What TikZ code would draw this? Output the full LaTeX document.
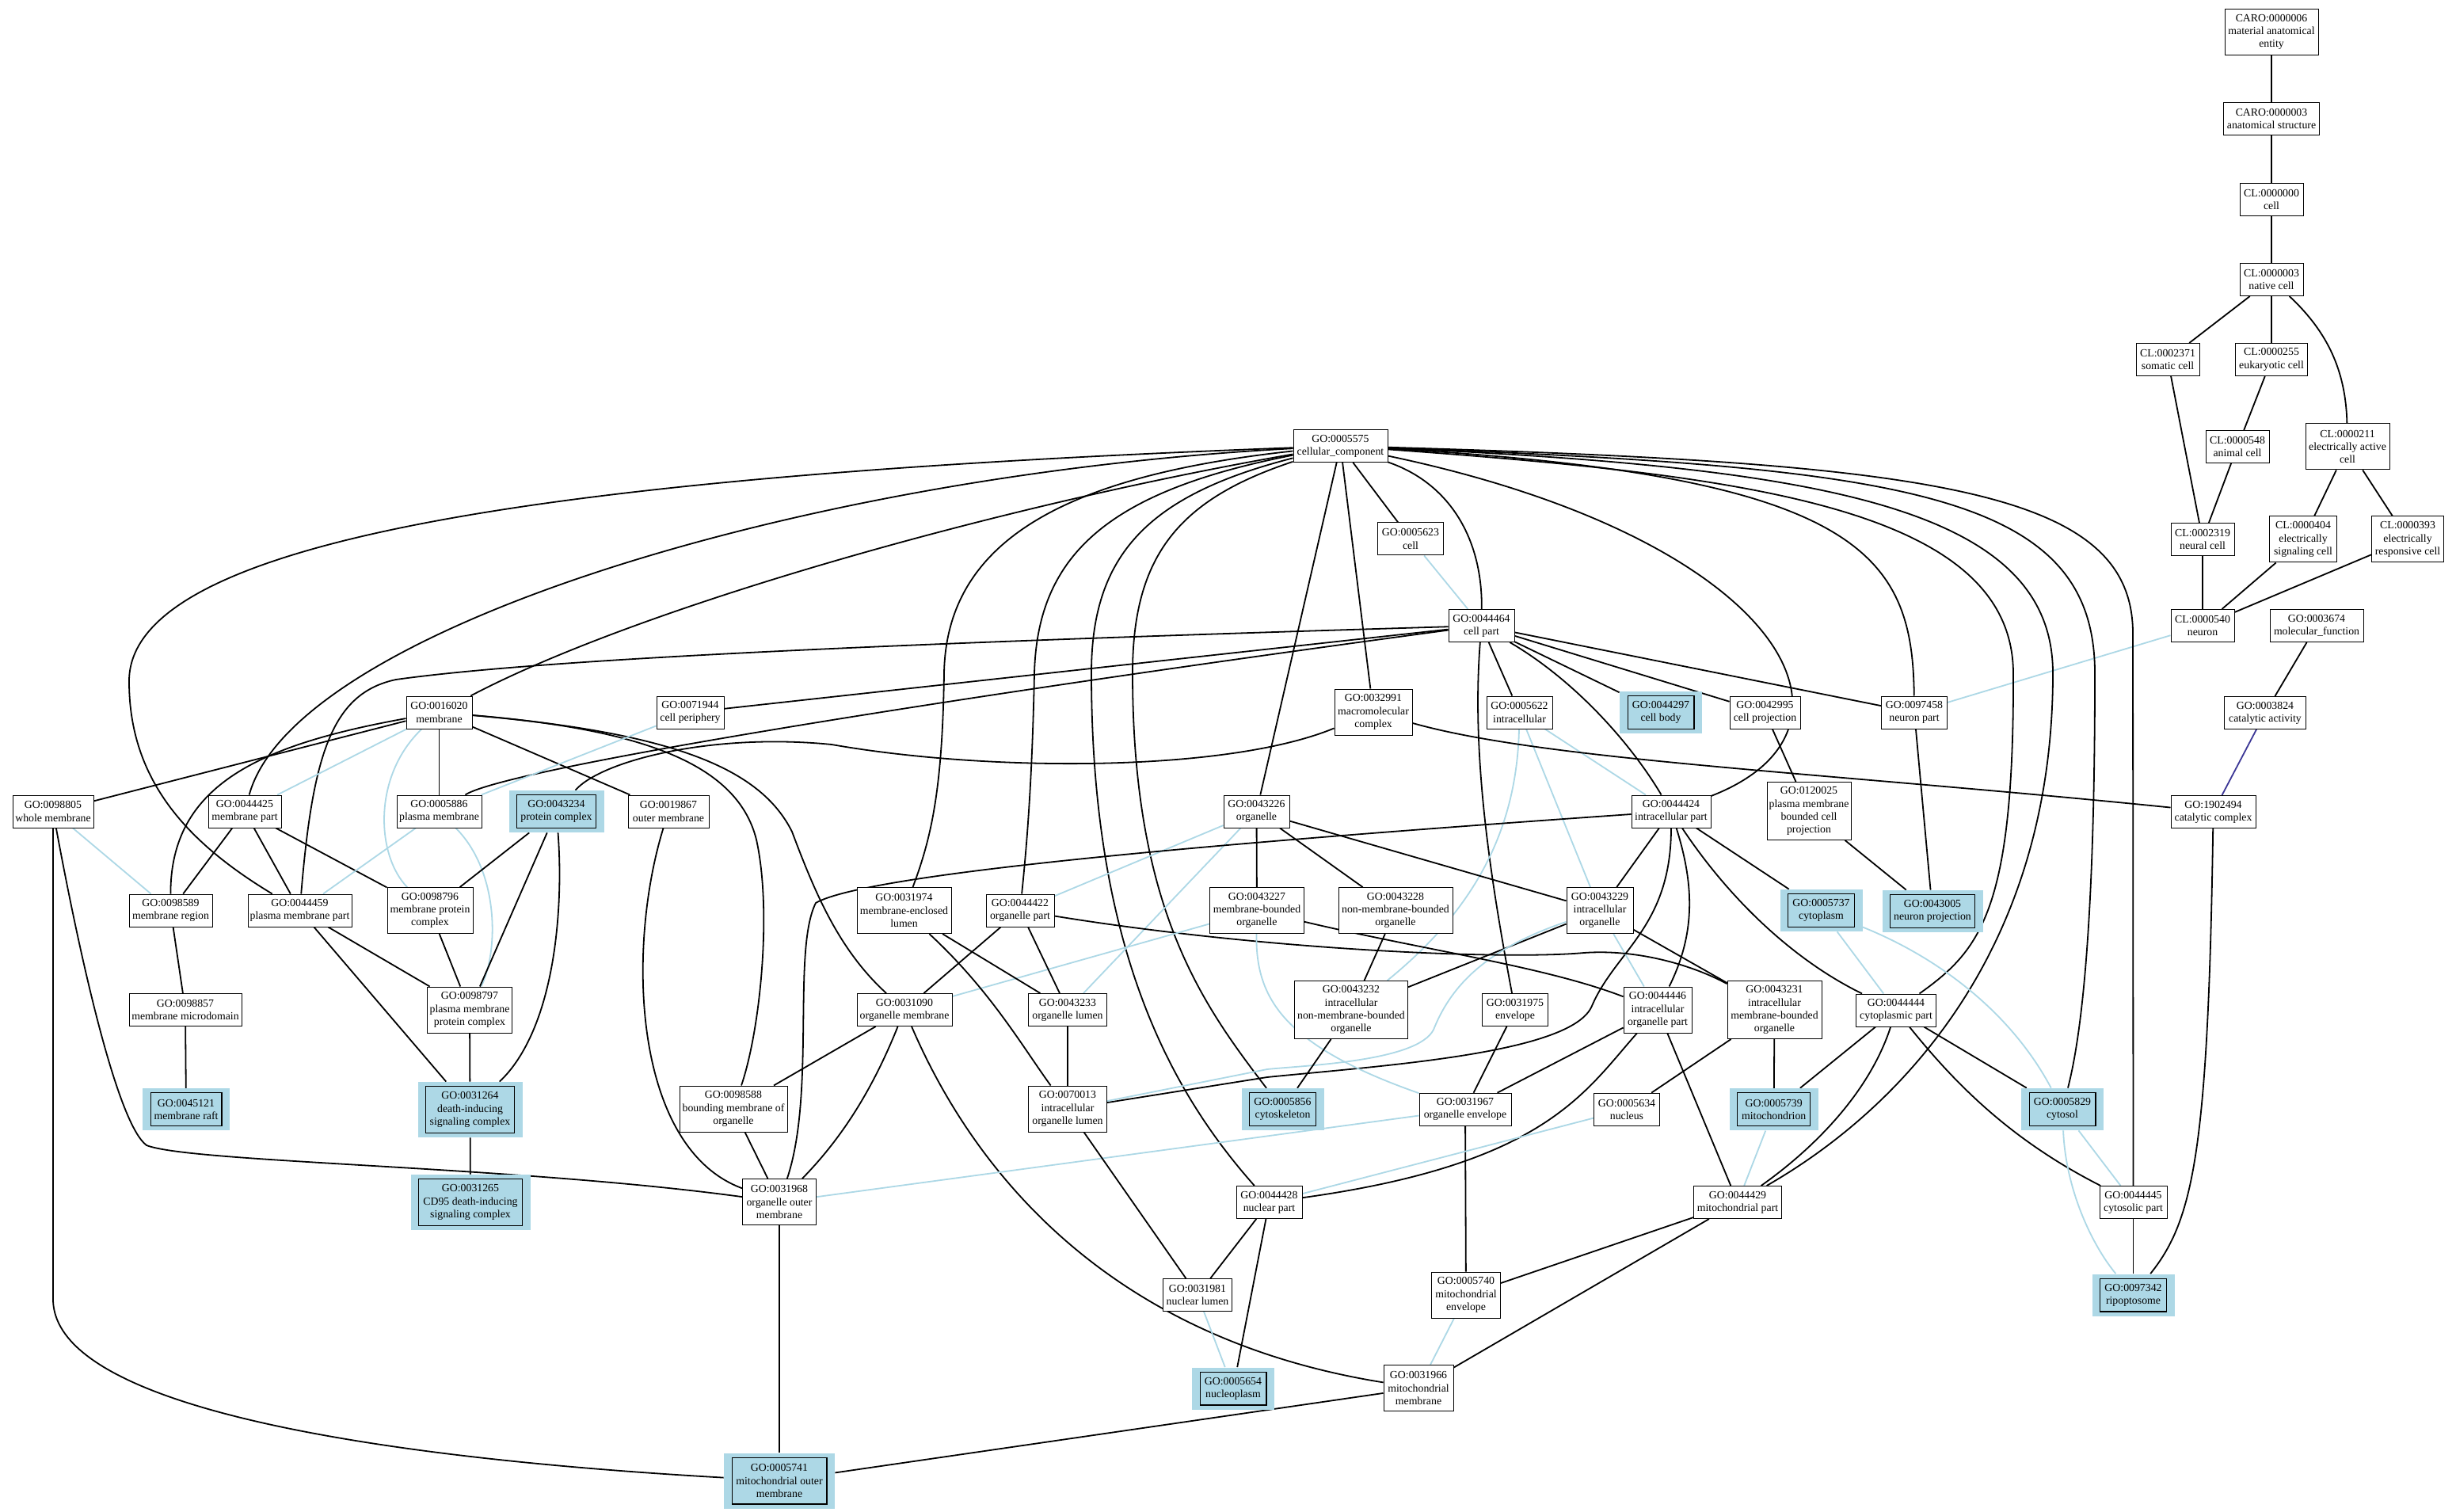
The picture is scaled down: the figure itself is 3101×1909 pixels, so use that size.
\documentclass[tikz,border=0pt]{standalone}
\usepackage{fontspec}
\setmainfont{Liberation Serif}
\usetikzlibrary{backgrounds,calc}
\definecolor{hlblue}{HTML}{ADD8E6}
\definecolor{lineblue}{HTML}{ADD8E6}
\definecolor{regblue}{RGB}{60,55,150}
\newcommand{\lblfont}{\fontsize{6.9}{8.1}\selectfont}
\begin{document}
\begin{tikzpicture}[x=0.5pt,y=-0.5pt,
  box/.style={draw=black, line width=0.5pt, fill=white, inner sep=0pt, align=center, font=\lblfont, minimum height=20.5pt},
  tall/.style={minimum height=29pt},
  taller/.style={minimum height=36.5pt},
  hl/.style={fill=hlblue, inner sep=0pt, align=center, font=\lblfont, minimum height=26.5pt},
  hltall/.style={minimum height=35pt},
  wd/.style={minimum width=#1pt},
  isa/.style={draw=black, line width=0.9pt},
  partof/.style={draw=lineblue, line width=0.9pt},
  regl/.style={draw=regblue, line width=0.9pt},
  frame/.style={draw=black, line width=0.6pt}]
\useasboundingbox (0,0) rectangle (3101,1909);

% ---------- cell ontology branch ----------
\node[box,tall,wd=59] (caro6) at (2868,40.5) {CARO:0000006\\material anatomical\\entity};
\node[box,wd=60.5] (caro3) at (2868,150) {CARO:0000003\\anatomical structure};
\node[box,wd=40] (cl0) at (2868,252) {CL:0000000\\cell};
\node[box,wd=40] (cl3) at (2868,353) {CL:0000003\\native cell};
\node[box,wd=40] (cl2371) at (2737,454) {CL:0002371\\somatic cell};
\node[box,wd=45.5] (cl255) at (2868,454) {CL:0000255\\eukaryotic cell};
\node[box,wd=40] (cl548) at (2825,564) {CL:0000548\\animal cell};
\node[box,tall,wd=53] (cl211) at (2964,564) {CL:0000211\\electrically active\\cell};
\node[box,wd=40] (cl2319) at (2781,681) {CL:0002319\\neural cell};
\node[box,tall,wd=42.5] (cl404) at (2908,681) {CL:0000404\\electrically\\signaling cell};
\node[box,tall,wd=45.5] (cl393) at (3040,681) {CL:0000393\\electrically\\responsive cell};
\node[box,wd=40] (cl540) at (2781,790) {CL:0000540\\neuron};
\node[box,wd=59] (g3674) at (2925,790) {GO:0003674\\molecular\_function};
\node[box,wd=51.5] (g3824) at (2860,900) {GO:0003824\\catalytic activity};
\node[box,wd=53.5] (g1902494) at (2794.5,1025) {GO:1902494\\catalytic complex};

% ---------- cellular component terms ----------
\node[box,wd=59.5] (g5575) at (1692.5,563) {GO:0005575\\cellular\_component};
\node[box,wd=41.5] (g5623) at (1781,680.5) {GO:0005623\\cell};
\node[box,wd=41.5] (g44464) at (1870.5,790) {GO:0044464\\cell part};
\node[box,tall,wd=49] (g32991) at (1734,899) {GO:0032991\\macromolecular\\complex};
\node[box,wd=41.5] (g5622) at (1918.5,899.5) {GO:0005622\\intracellular};
\node[box,wd=44.5] (g42995) at (2228.5,899.5) {GO:0042995\\cell projection};
\node[box,wd=41.5] (g97458) at (2417,899.5) {GO:0097458\\neuron part};
\node[box,taller,wd=53] (g120025) at (2284,1024) {GO:0120025\\plasma membrane\\bounded cell\\projection};
\node[box,wd=41.5] (g16020) at (554.5,899.5) {GO:0016020\\membrane};
\node[box,wd=42.5] (g71944) at (871.5,899.5) {GO:0071944\\cell periphery};
\node[box,wd=51] (g98805) at (67,1024.5) {GO:0098805\\whole membrane};
\node[box,wd=46] (g44425) at (309,1024.5) {GO:0044425\\membrane part};
\node[box,wd=53.5] (g5886) at (554.5,1024.5) {GO:0005886\\plasma membrane};
\node[box,wd=51] (g19867) at (844,1024.5) {GO:0019867\\outer membrane};
\node[box,wd=41.5] (g43226) at (1586.5,1024.5) {GO:0043226\\organelle};
\node[box,wd=50] (g44424) at (2110,1024.5) {GO:0044424\\intracellular part};
\node[box,wd=52.5] (g98589) at (215.5,1149.5) {GO:0098589\\membrane region};
\node[box,wd=65.5] (g44459) at (378.5,1149.5) {GO:0044459\\plasma membrane part};
\node[box,tall,wd=54] (g98796) at (543,1149.6) {GO:0098796\\membrane protein\\complex};
\node[box,tall,wd=59.5] (g31974) at (1141.5,1149.6) {GO:0031974\\membrane-enclosed\\lumen};
\node[box,wd=43] (g44422) at (1288,1149.5) {GO:0044422\\organelle part};
\node[box,tall,wd=59.5] (g43227) at (1587,1149.6) {GO:0043227\\membrane-bounded\\organelle};
\node[box,tall,wd=72] (g43228) at (1762,1149.6) {GO:0043228\\non-membrane-bounded\\organelle};
\node[box,tall,wd=42] (g43229) at (2020,1149.6) {GO:0043229\\intracellular\\organelle};
\node[box,wd=71] (g98857) at (234,1275) {GO:0098857\\membrane microdomain};
\node[box,tall,wd=53.5] (g98797) at (593,1275) {GO:0098797\\plasma membrane\\protein complex};
\node[box,wd=60] (g31090) at (1142,1275) {GO:0031090\\organelle membrane};
\node[box,wd=49.25] (g43233) at (1348,1275) {GO:0043233\\organelle lumen};
\node[box,taller,wd=71.5] (g43232) at (1706,1275) {GO:0043232\\intracellular\\non-membrane-bounded\\organelle};
\node[box,wd=41.5] (g31975) at (1913,1275) {GO:0031975\\envelope};
\node[box,tall,wd=43] (g44446) at (2093,1275) {GO:0044446\\intracellular\\organelle part};
\node[box,taller,wd=59.5] (g43231) at (2240.5,1275) {GO:0043231\\intracellular\\membrane-bounded\\organelle};
\node[box,wd=50.5] (g44444) at (2394,1275.5) {GO:0044444\\cytoplasmic part};
\node[box,tall,wd=68] (g98588) at (926,1400) {GO:0098588\\bounding membrane of\\organelle};
\node[box,tall,wd=49.25] (g70013) at (1348,1400) {GO:0070013\\intracellular\\organelle lumen};
\node[box,wd=58] (g31967) at (1850,1400.7) {GO:0031967\\organelle envelope};
\node[box,wd=41.5] (g5634) at (2054,1400.7) {GO:0005634\\nucleus};
\node[box,tall,wd=46.25] (g31968) at (984,1517.5) {GO:0031968\\organelle outer\\membrane};
\node[box,wd=41.5] (g44428) at (1602.5,1518) {GO:0044428\\nuclear part};
\node[box,wd=55.5] (g44429) at (2194,1518) {GO:0044429\\mitochondrial part};
\node[box,wd=42.5] (g44445) at (2693.5,1518) {GO:0044445\\cytosolic part};
\node[box,wd=43.5] (g31981) at (1512,1635) {GO:0031981\\nuclear lumen};
\node[box,tall,wd=43.5] (g5740) at (1851,1635) {GO:0005740\\mitochondrial\\envelope};
\node[box,tall,wd=44] (g31966) at (1791,1752.5) {GO:0031966\\mitochondrial\\membrane};

% highlighted terms
\node[hl,wd=52] (g44297) at (2097,899.5) {GO:0044297\\cell body};
\node[hl,wd=63.5] (g43005) at (2440,1150.5) {GO:0043005\\neuron projection};
\node[hl,wd=52] (g5737) at (2299.5,1149.5) {GO:0005737\\cytoplasm};
\node[hl,wd=60] (g43234) at (702.5,1024.5) {GO:0043234\\protein complex};
\node[hl,wd=55] (g45121) at (235,1400.7) {GO:0045121\\membrane raft};
\node[hl,hltall,wd=66] (g31264) at (593.5,1401) {GO:0031264\\death-inducing\\signaling complex};
\node[hl,hltall,wd=75.5] (g31265) at (594,1518) {GO:0031265\\CD95 death-inducing\\signaling complex};
\node[hl,hltall,wd=70] (g5741) at (984,1869.6) {GO:0005741\\mitochondrial outer\\membrane};
\node[hl,wd=52] (g5654) at (1557,1753) {GO:0005654\\nucleoplasm};
\node[hl,wd=52] (g5856) at (1619.5,1400.7) {GO:0005856\\cytoskeleton};
\node[hl,wd=56] (g5739) at (2239.7,1400.7) {GO:0005739\\mitochondrion};
\node[hl,wd=52] (g5829) at (2604,1400.5) {GO:0005829\\cytosol};
\node[hl,wd=52] (g97342) at (2693.5,1635) {GO:0097342\\ripoptosome};

\foreach \n in {g44297,g43005,g5737,g43234,g45121,g31264,g31265,g5741,g5654,g5856,g5739,g5829,g97342}
  \draw[frame] ($(\n.south west)+(5.25pt,3pt)$) rectangle ($(\n.north east)+(-5.25pt,-3pt)$);

\begin{scope}[on background layer]
\fill[white] (0,0) rectangle (3101,1909);

% cell ontology links
\draw[isa] (caro6) -- (caro3);
\draw[isa] (caro3) -- (cl0);
\draw[isa] (cl0) -- (cl3);
\draw[isa] (cl3) -- (cl2371);
\draw[isa] (cl3) -- (cl255);
\draw[isa] (cl3) .. controls (2940,420) and (2962,470) .. (cl211);
\draw[isa] (cl255) -- (cl548);
\draw[isa] (cl2371) -- (cl2319);
\draw[isa] (cl548) -- (cl2319);
\draw[isa] (cl211) -- (cl404);
\draw[isa] (cl211) -- (cl393);
\draw[isa] (cl2319) -- (cl540);
\draw[isa] (cl404) -- (cl540);
\draw[isa] (cl393) -- (cl540);
\draw[partof] (cl540) -- (g97458);
\draw[isa] (g3674) -- (g3824);
\draw[regl] (g3824) -- (g1902494);
\draw[isa] (g1902494) .. controls (2788,1450) and (2770,1540) .. (g97342);

% cellular_component
\draw[isa] (g5575) .. controls (1250,640) and (800,770) .. (g16020);
\draw[isa] (g5575) .. controls (1000,600) and (370,800) .. (g44425);
\draw[isa] (g5575) .. controls (700,600) and (163,680) .. (163,860) .. controls (163,980) and (230,1060) .. (g44459);
\draw[isa] (g5575) .. controls (1350,600) and (1195,680) .. (1192,850) .. controls (1190,1000) and (1175,1060) .. (g31974);
\draw[isa] (g5575) .. controls (1400,620) and (1310,700) .. (1306,850) .. controls (1303,1000) and (1295,1080) .. (g44422);
\draw[isa] (g5575) .. controls (1450,625) and (1378,700) .. (1378,850) .. controls (1378,1200) and (1480,1380) .. (g44428);
\draw[isa] (g5575) .. controls (1490,630) and (1430,700) .. (1430,850) .. controls (1430,1150) and (1520,1270) .. (g5856);
\draw[isa] (g5575) -- (g43226);
\draw[isa] (g5575) -- (g32991);
\draw[isa] (g5575) -- (g5623);
\draw[isa] (g5575) .. controls (1830,610) and (1872,680) .. (g44464);
\draw[isa] (g5575) .. controls (2250,680) and (2380,920) .. (g44424);
\draw[isa] (g5575) .. controls (2350,600) and (2415,700) .. (g97458);
\draw[isa] (g5575) .. controls (2200,600) and (2541,640) .. (2542,850) .. controls (2543,1150) and (2500,1200) .. (g44444);
\draw[isa] (g5575) .. controls (2300,590) and (2592,640) .. (2592,850) .. controls (2592,1200) and (2400,1400) .. (g44429);
\draw[isa] (g5575) .. controls (2400,590) and (2645,620) .. (2645,850) .. controls (2645,1150) and (2630,1300) .. (g5829);
\draw[isa] (g5575) .. controls (2450,585) and (2693,620) .. (2693,800) -- (g44445);

\draw[partof] (g5623) -- (g44464);

% cell part
\draw[isa] (g44464) .. controls (1200,810) and (700,830) .. (500,858) .. controls (420,875) and (395,950) .. (g44459);
\draw[isa] (g44464) -- (g71944);
\draw[isa] (g44464) .. controls (1200,880) and (640,970) .. (g5886);
\draw[isa] (g44464) .. controls (1858,950) and (1880,1100) .. (g31975);
\draw[isa] (g44464) -- (g5622);
\draw[isa] (g44464) .. controls (1990,860) and (2060,940) .. (g44424);
\draw[isa] (g44464) -- (g44297);
\draw[isa] (g44464) -- (g42995);
\draw[isa] (g44464) -- (g97458);

% intracellular
\draw[partof] (g5622) .. controls (1915,1050) and (1860,1150) .. (g43232);
\draw[partof] (g5622) -- (g43229);
\draw[partof] (g5622) -- (g44424);

\draw[isa] (g42995) -- (g120025);
\draw[isa] (g120025) -- (g43005);
\draw[isa] (g97458) -- (g43005);

% macromolecular complex
\draw[isa] (g32991) .. controls (1550,975) and (1250,975) .. (1050,940) .. controls (900,925) and (760,960) .. (g43234);
\draw[isa] (g32991) .. controls (1950,960) and (2300,975) .. (g1902494);

% membrane
\draw[isa] (g16020) -- (g98805);
\draw[isa] (g16020) .. controls (330,940) and (215,990) .. (g98589);
\draw[partof] (g16020) -- (g44425);
\draw[partof] (g16020) .. controls (470,980) and (475,1080) .. (g98796);
\draw[isa] (g16020) -- (g5886);
\draw[isa] (g16020) -- (g19867);
\draw[isa] (g16020) .. controls (800,920) and (930,960) .. (955,1060) .. controls (975,1150) and (960,1300) .. (g98588);
\draw[isa] (g16020) .. controls (850,925) and (960,970) .. (1000,1050) .. controls (1030,1130) and (1060,1200) .. (g31090);

\draw[partof] (g71944) -- (g5886);

% whole membrane
\draw[partof] (g98805) -- (g98589);
\draw[isa] (g98805) .. controls (105,1230) and (150,1420) .. (185,1446) .. controls (240,1468) and (650,1472) .. (g31968);
\draw[isa] (g98805) -- (67,1640) .. controls (67,1790) and (550,1845) .. (g5741);

% membrane part, plasma membrane, protein complex
\draw[isa] (g44425) -- (g98589);
\draw[isa] (g44425) -- (g44459);
\draw[isa] (g44425) -- (g98796);
\draw[partof] (g5886) -- (g44459);
\draw[partof] (g5886) .. controls (630,1100) and (630,1200) .. (g98797);
\draw[isa] (g43234) -- (g98796);
\draw[isa] (g43234) -- (g98797);
\draw[isa] (g43234) .. controls (712,1150) and (700,1300) .. (g31264);
\draw[isa] (g98796) -- (g98797);
\draw[isa] (g44459) -- (g98797);
\draw[isa] (g44459) -- (g31264);
\draw[isa] (g98797) -- (g31264);
\draw[isa] (g31264) -- (g31265);
\draw[isa] (g98589) -- (g98857);
\draw[isa] (g98857) -- (g45121);

\draw[isa] (g19867) .. controls (790,1200) and (800,1450) .. (g31968);

% organelle
\draw[isa] (g43226) -- (g43227);
\draw[isa] (g43226) -- (g43228);
\draw[isa] (g43226) -- (g43229);
\draw[partof] (g43226) -- (g44422);
\draw[partof] (g43226) -- (g43233);

% intracellular part
\draw[isa] (g44424) .. controls (1600,1060) and (1100,1100) .. (1030,1140) .. controls (1000,1200) and (1030,1380) .. (g31968);
\draw[isa] (g44424) -- (g43229);
\draw[isa] (g44424) .. controls (2110,1170) and (2040,1200) .. (2010,1270) .. controls (1985,1330) and (1750,1345) .. (1600,1360) -- (g70013);
\draw[isa] (g44424) .. controls (2140,1120) and (2140,1180) .. (g44446);
\draw[isa] (g44424) .. controls (2180,1130) and (2260,1210) .. (g44444);
\draw[isa] (g44424) -- (g5737);

\draw[isa] (g43228) -- (g43232);
\draw[isa] (g43229) -- (g43232);
\draw[partof] (g43229) -- (g44446);
\draw[isa] (g43229) -- (g43231);
\draw[partof] (g43229) .. controls (1870,1200) and (1830,1250) .. (1810,1300) .. controls (1790,1340) and (1650,1345) .. (1600,1350) -- (g70013);

\draw[isa] (g44422) .. controls (1600,1200) and (1900,1212) .. (2000,1203) .. controls (2070,1198) and (2140,1220) .. (g43231);
\draw[isa] (g43227) .. controls (1800,1200) and (1950,1220) .. (g44446);
\draw[partof] (g43227) -- (g31090);
\draw[partof] (g43227) .. controls (1585,1260) and (1620,1320) .. (g31967);
\draw[isa] (g44422) -- (g31090);
\draw[isa] (g44422) -- (g43233);
\draw[isa] (g31974) -- (g43233);
\draw[isa] (g31974) .. controls (1250,1250) and (1290,1320) .. (g70013);
\draw[isa] (g43233) -- (g70013);

% membranes of organelles
\draw[isa] (g31090) -- (g98588);
\draw[isa] (g31090) .. controls (1100,1380) and (1060,1440) .. (g31968);
\draw[isa] (g31090) .. controls (1230,1480) and (1400,1690) .. (g31966);
\draw[isa] (g98588) -- (g31968);
\draw[isa] (g31968) -- (g5741);
\draw[isa] (g31966) -- (g5741);
\draw[partof] (g5740) -- (g31966);
\draw[isa] (g44429) -- (g5740);
\draw[isa] (g44429) -- (g31966);
\draw[isa] (g31967) -- (g5740);
\draw[isa] (g31975) -- (g31967);
\draw[isa] (g44446) -- (g31967);
\draw[isa] (g44446) .. controls (2000,1380) and (1950,1470) .. (g44428);
\draw[partof] (g5634) -- (g44428);
\draw[isa] (g44446) -- (g44429);
\draw[partof] (g31967) -- (g31968);

% membrane-bounded organelles and cytoplasm
\draw[isa] (g43231) -- (g5634);
\draw[isa] (g43231) -- (g5739);
\draw[partof] (g5739) -- (g44429);
\draw[isa] (g44444) -- (g5739);
\draw[isa] (g44444) .. controls (2360,1380) and (2290,1450) .. (g44429);
\draw[partof] (g5737) -- (g44444);
\draw[partof] (g5737) .. controls (2450,1210) and (2540,1280) .. (g5829);
\draw[isa] (g44444) -- (g5829);
\draw[isa] (g44444) .. controls (2470,1370) and (2540,1440) .. (g44445);
\draw[partof] (g5829) -- (g44445);
\draw[partof] (g5829) .. controls (2608,1500) and (2640,1570) .. (g97342);
\draw[isa] (g44445) -- (g97342);

% lumens
\draw[isa] (g70013) -- (g31981);
\draw[isa] (g44428) -- (g31981);
\draw[partof] (g31981) -- (g5654);
\draw[isa] (g44428) -- (g5654);
\draw[isa] (g43232) -- (g5856);
\end{scope}
\end{tikzpicture}
\end{document}
